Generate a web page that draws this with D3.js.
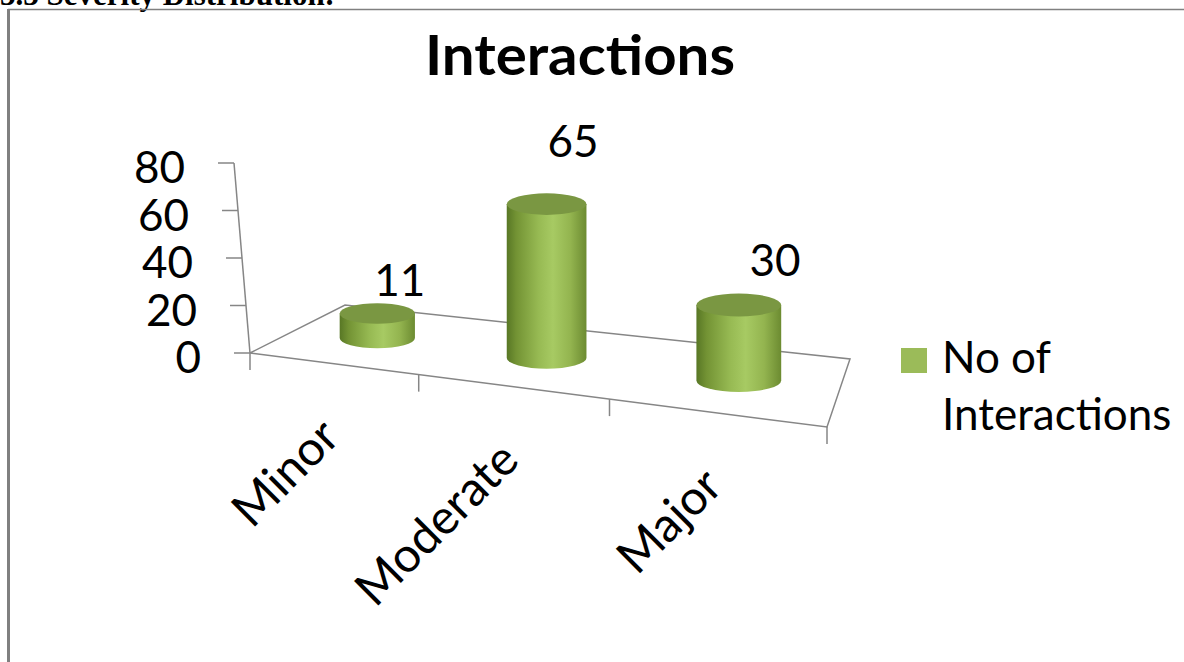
<!DOCTYPE html>
<html>
<head>
<meta charset="utf-8">
<title>Interactions</title>
<script src="https://d3js.org/d3.v7.min.js"></script>
<style>
  body { margin: 0; background: #fff; overflow: hidden; }
  svg { display: block; font-family: Lato, "Open Sans", sans-serif; }
</style>
</head>
<body>
<script>
// chart values
var categories = ["Minor", "Moderate", "Major"];
var interactions = [11, 65, 30];
var yTicks = [0, 20, 40, 60, 80];
var legendLines = ["No of", "Interactions"];
var chartTitle = "Interactions";
var caption = "3.3 Severity Distribution:";

var width = 1184, height = 662;

var svg = d3.select("body").append("svg")
    .attr("width", width)
    .attr("height", height);

// page frame + caption above it (cut off by the page top, like the scan)
svg.append("text")
    .attr("x", 0).attr("y", 5)
    .style("font-family", "'Liberation Serif', serif")
    .style("font-weight", "bold")
    .style("font-size", "31px")
    .text(caption);
svg.append("line").attr("x1", 8).attr("y1", 9.5).attr("x2", width).attr("y2", 9.5)
    .attr("stroke", "#808080").attr("stroke-width", 1.5);
svg.append("line").attr("x1", 8.5).attr("y1", 9).attr("x2", 8.5).attr("y2", height)
    .attr("stroke", "#808080").attr("stroke-width", 3);

// 3d floor corners (screen space)
var frontLeft = [250, 353], frontRight = [827, 427];
var backLeft = [345, 305], backRight = [850, 359];
var axisTop = [234, 163];
var midLeft = [300, 329], midRight = [845, 393];

function lerp(a, b, t) { return [a[0] + (b[0] - a[0]) * t, a[1] + (b[1] - a[1]) * t]; }
// depth foreshortening along the category direction
function persp(u) { return u / (u + 1.21 * (1 - u)); }

var x = d3.scaleBand().domain(categories).range([0, 1]);
var y = d3.scaleLinear().domain([0, 80]).range([0, 1]);
var yPx = d3.scaleLinear().domain([0, 80]).range([0, 190]);
var depthScale = d3.scaleLinear().domain([0, 1]).range([0.915, 1.095]);

var grey = "#868686";

// gradient for cylinder sides
var defs = svg.append("defs");
var grad = defs.append("linearGradient").attr("id", "side")
    .attr("x1", "0%").attr("x2", "100%").attr("y1", "0%").attr("y2", "0%");
[["0%", "#587725"], ["12%", "#739334"], ["40%", "#97ba53"], ["58%", "#a7ca63"],
 ["80%", "#93b44f"], ["100%", "#6c8b31"]].forEach(function(s) {
  grad.append("stop").attr("offset", s[0]).attr("stop-color", s[1]);
});

// floor outline
var floor = svg.append("g").attr("fill", "none").attr("stroke", grey).attr("stroke-width", 1.5);
floor.append("path")
    .attr("d", d3.line()([frontLeft, backLeft, backRight, frontRight, frontLeft]));

// category ticks on the front edge
var bounds = categories.map(function(c) { return x(c); }).concat([1]);
floor.selectAll("line.xt")
    .data(bounds)
    .enter().append("line")
    .attr("class", "xt")
    .attr("x1", function(d) { return lerp(frontLeft, frontRight, persp(d))[0]; })
    .attr("x2", function(d) { return lerp(frontLeft, frontRight, persp(d))[0]; })
    .attr("y1", function(d) { return lerp(frontLeft, frontRight, persp(d))[1]; })
    .attr("y2", function(d) { return lerp(frontLeft, frontRight, persp(d))[1] + 17; });

// value axis
floor.append("line")
    .attr("x1", frontLeft[0]).attr("y1", frontLeft[1])
    .attr("x2", axisTop[0]).attr("y2", axisTop[1]);
floor.selectAll("line.yt")
    .data(yTicks)
    .enter().append("line")
    .attr("class", "yt")
    .attr("x1", function(d) { return lerp(frontLeft, axisTop, y(d))[0]; })
    .attr("x2", function(d) { return lerp(frontLeft, axisTop, y(d))[0] - 16; })
    .attr("y1", function(d) { return lerp(frontLeft, axisTop, y(d))[1]; })
    .attr("y2", function(d) { return lerp(frontLeft, axisTop, y(d))[1]; });

svg.selectAll("text.ytl")
    .data(yTicks)
    .enter().append("text")
    .attr("class", "ytl")
    .attr("x", function(d) { return lerp(frontLeft, axisTop, y(d))[0] - 49; })
    .attr("y", function(d) { return lerp(frontLeft, axisTop, y(d))[1] + 20; })
    .attr("text-anchor", "end")
    .style("font-size", "44px")
    .text(function(d) { return d; });

// cylinders
var bars = categories.map(function(c, i) {
  var f = persp(x(c) + x.bandwidth() / 2);
  var base = lerp(midLeft, midRight, f);
  var k = depthScale(f);
  var rx = 40 * k, ry = rx * 0.27;
  var h = yPx(interactions[i]) * k;
  return { cat: c, value: interactions[i], f: f, cx: base[0], by: base[1], ty: base[1] - h, rx: rx, ry: ry, h: h };
});

var cyl = svg.selectAll("g.cyl").data(bars).enter().append("g").attr("class", "cyl");
cyl.append("path")
    .attr("fill", "url(#side)")
    .attr("d", function(d) {
      return "M" + (d.cx - d.rx) + "," + d.ty +
        "L" + (d.cx - d.rx) + "," + d.by +
        "A" + d.rx + "," + d.ry + " 0 0 0 " + (d.cx + d.rx) + "," + d.by +
        "L" + (d.cx + d.rx) + "," + d.ty + "Z";
    });
cyl.append("ellipse")
    .attr("cx", function(d) { return d.cx; })
    .attr("cy", function(d) { return d.ty; })
    .attr("rx", function(d) { return d.rx; })
    .attr("ry", function(d) { return d.ry; })
    .attr("fill", "#7a9742");

// data labels
svg.selectAll("text.val")
    .data(bars)
    .enter().append("text")
    .attr("class", "val")
    .attr("x", function(d) { return d.cx + 22 + 22 * d.f * d.f; })
    .attr("y", function(d) { return d.ty - 12 - 0.23 * d.h; })
    .attr("text-anchor", "middle")
    .style("font-size", "44px")
    .text(function(d) { return d.value; });

// rotated category labels
svg.selectAll("text.cat")
    .data(categories)
    .enter().append("text")
    .attr("class", "cat")
    .attr("transform", function(c) {
      var p = lerp(frontLeft, frontRight, persp(x(c) + x.bandwidth() / 2));
      return "translate(" + (p[0] + 10) + "," + (p[1] + 76) + ") rotate(-45)";
    })
    .attr("text-anchor", "end")
    .style("font-size", "48px")
    .text(function(c) { return c; });

// title
svg.append("text")
    .attr("x", 580).attr("y", 75)
    .attr("text-anchor", "middle")
    .style("font-size", "56px")
    .style("font-weight", "bold")
    .attr("textLength", 310)
    .attr("lengthAdjust", "spacingAndGlyphs")
    .text(chartTitle);

// legend
var legend = svg.append("g").attr("transform", "translate(901,348)");
legend.append("rect").attr("width", 26).attr("height", 25).attr("fill", "#9bbb59");
legend.selectAll("text")
    .data(legendLines)
    .enter().append("text")
    .attr("x", 41)
    .attr("y", function(d, i) { return 25 + i * 57; })
    .style("font-size", "44px")
    .text(function(d) { return d; });
</script>
</body>
</html>
